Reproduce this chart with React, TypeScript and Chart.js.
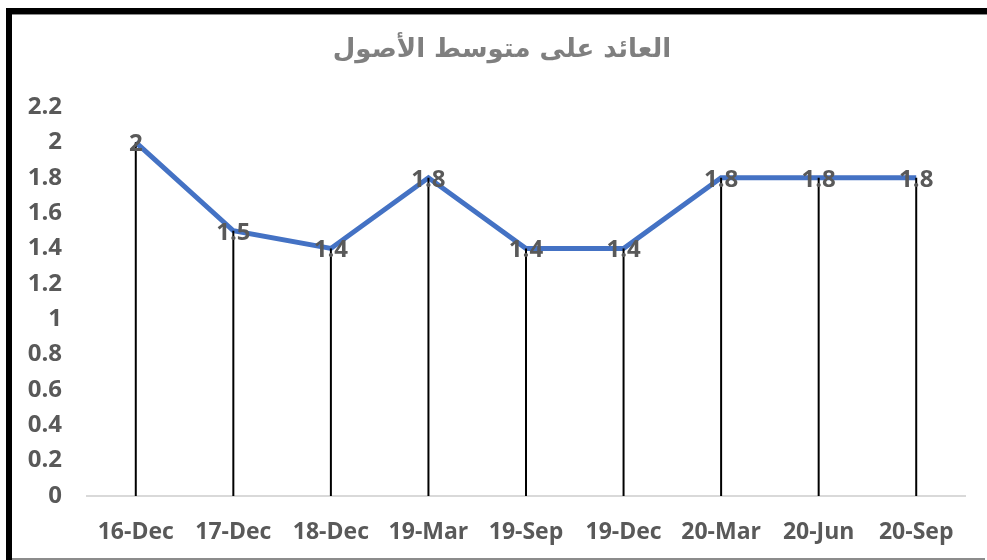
import React, { useEffect, useRef } from "react";
import { Chart, registerables } from "chart.js";

Chart.register(...registerables);

const titleText = "العائد على متوسط الأصول";
const categories = ["16-Dec", "17-Dec", "18-Dec", "19-Mar", "19-Sep", "19-Dec", "20-Mar", "20-Jun", "20-Sep"];
const roaValues = [2, 1.5, 1.4, 1.8, 1.4, 1.4, 1.8, 1.8, 1.8];
const yMin = 0;
const yMax = 2.2;
const yStep = 0.2;

const framePlugin = {
  id: "frame",
  beforeDraw(chart: any) {
    const ctx = chart.ctx;
    ctx.save();
    ctx.fillStyle = "#ffffff";
    ctx.fillRect(0, 0, chart.width, chart.height);
    ctx.fillStyle = "#000000";
    ctx.fillRect(6, 8, chart.width - 6, 6);
    ctx.fillRect(6, 8, 6, chart.height - 8);
    ctx.fillStyle = "#8c8c8c";
    ctx.fillRect(12, 14, chart.width - 12, 1);
    ctx.fillRect(12, chart.height - 2, chart.width - 14, 2);
    // title
    ctx.fillStyle = "#7f7f7f";
    ctx.font = "bold 26px 'DejaVu Sans', sans-serif";
    ctx.textAlign = "center";
    ctx.textBaseline = "middle";
    ctx.direction = "rtl";
    ctx.fillText(titleText, 502, 50);
    ctx.restore();
  },
};

const dropLinePlugin = {
  id: "dropLines",
  afterDatasetsDraw(chart: any) {
    const ctx = chart.ctx;
    const meta = chart.getDatasetMeta(0);
    const bottom = chart.scales.y.getPixelForValue(0);
    ctx.save();
    ctx.strokeStyle = "#000000";
    ctx.lineWidth = 2;
    meta.data.forEach((pt: any) => {
      ctx.beginPath();
      ctx.moveTo(pt.x, pt.y);
      ctx.lineTo(pt.x, bottom);
      ctx.stroke();
    });
    // data labels
    ctx.fillStyle = "#595959";
    ctx.font = "bold 24px 'Open Sans', sans-serif";
    ctx.textAlign = "center";
    ctx.textBaseline = "middle";
    meta.data.forEach((pt: any, i: number) => {
      ctx.fillText(String(roaValues[i]), pt.x, pt.y + 2);
    });
    ctx.restore();
  },
};

export default function App() {
  const ref = useRef<HTMLCanvasElement | null>(null);
  useEffect(() => {
    if (!ref.current) return;
    const chart = new Chart(ref.current, {
      type: "line",
      data: {
        labels: categories,
        datasets: [
          {
            data: roaValues,
            borderColor: "#4472C4",
            borderWidth: 5,
            pointRadius: 0,
            tension: 0,
            fill: false,
          },
        ],
      },
      options: {
        animation: false,
        responsive: false,
        devicePixelRatio: 1,
        layout: { padding: { top: 107, left: 12, right: 22, bottom: 0 } },
        plugins: { legend: { display: false }, title: { display: false }, tooltip: { enabled: false } },
        scales: {
          x: {
            offset: true,
            grid: { display: false, drawTicks: false },
            border: { display: true, color: "#d9d9d9", width: 2 },
            ticks: {
              color: "#595959",
              font: { family: "'Open Sans', sans-serif", size: 23, weight: "bold" },
              padding: 23,
              maxRotation: 0,
              autoSkip: false,
            },
            afterFit(scale: any) {
              scale.height = 64;
            },
          },
          y: {
            min: yMin,
            max: yMax,
            grid: { display: false, drawTicks: false },
            border: { display: false },
            ticks: {
              stepSize: yStep,
              color: "#595959",
              font: { family: "'Open Sans', sans-serif", size: 24, weight: "bold" },
              padding: 25,
              callback: (v: any) => String(Math.round(Number(v) * 10) / 10),
            },
            afterFit(scale: any) {
              scale.width = 75;
            },
          },
        },
      },
      plugins: [framePlugin, dropLinePlugin],
    });
    return () => chart.destroy();
  }, []);
  return (
    <div style={{ position: "absolute", left: 0, top: 0, width: 987, height: 560 }}>
      <canvas ref={ref} width={987} height={560} style={{ display: "block" }} />
    </div>
  );
}
